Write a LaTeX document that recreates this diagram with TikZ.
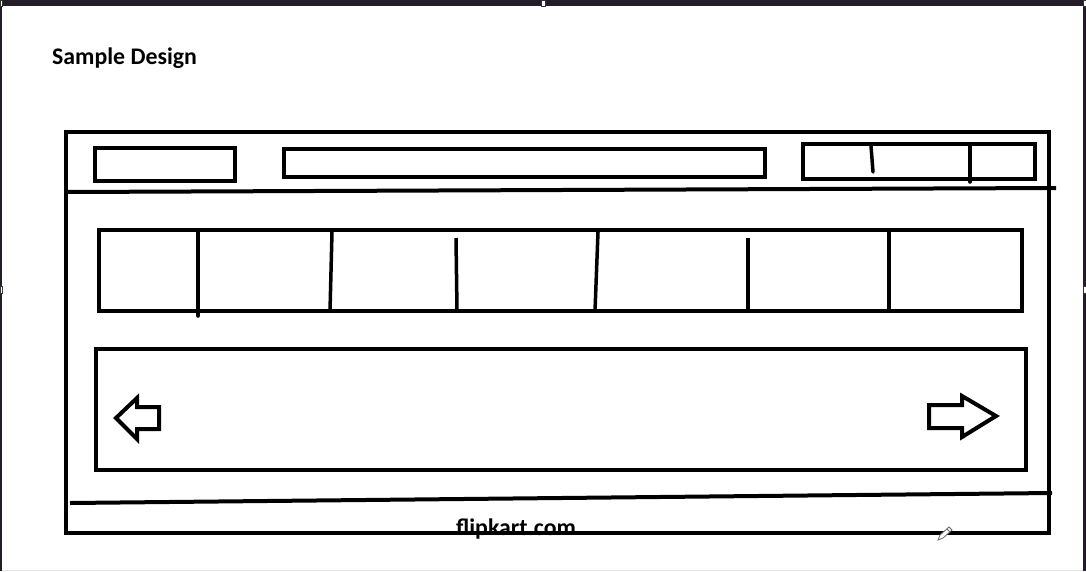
\documentclass[tikz,border=0pt]{standalone}
\usepackage{fontspec}
\setmainfont{Carlito}
\definecolor{chrome}{RGB}{36,28,40}
\begin{document}
\begin{tikzpicture}[x=1pt,y=-1pt,
  ink/.style={draw=black,line width=4pt,line join=miter},
  divider/.style={draw=black,line width=3.5pt},
  handle/.style={draw=black!80,fill=white,line width=0.6pt},
  label/.style={font=\bfseries\fontsize{23.8}{28}\selectfont,inner sep=0pt}]
\useasboundingbox (0,0) rectangle (1086,571);
% canvas and window chrome
\fill[white] (0,0) rectangle (1086,571);
\fill[chrome] (0,0) rectangle (1086,6);
\fill[chrome] (0,0) rectangle (2,571);
\fill[chrome] (1083,0) rectangle (1086,571);
\draw[black!10] (2,570) -- (1083,570);
\draw[handle] (541,0.5) rectangle (545,6);
\draw[handle] (0,0.5) rectangle (2.5,6);
\draw[handle] (1083,0.5) rectangle (1086,6);
\draw[handle] (0,286) rectangle (2.5,293);
\draw[handle] (1083,286) rectangle (1086,293);
% title
\node[label,anchor=base west] (title) at (52,64) {Sample Design};
% footer text (behind frame)
\node[label,anchor=base west] (footer) at (456,535) {flipkart.com};
% outer frame
\draw[ink] (66,132) rectangle (1049,533);
% header divider
\draw[ink] (66,192) -- (1056,188);
% header boxes
\draw[ink] (95,148) rectangle (235,181);
\draw[ink] (284,149) rectangle (765,177);
\draw[ink] (803,144) rectangle (1035,179);
\draw[divider,line cap=round] (871,146) -- (873,172);
\draw[divider,line cap=round] (970,146) -- (970,182);
% category strip
\draw[ink] (99,230) rectangle (1022,311);
\draw[divider,line cap=round] (198,232) -- (198,316);
\draw[divider] (332,232) -- (330,311);
\draw[divider] (456,238) -- (457,311);
\draw[divider] (598,232) -- (595,311);
\draw[divider] (748,238) -- (748,311);
\draw[divider] (889,232) -- (889,311);
% banner
\draw[ink] (96,349) rectangle (1026,470);
\draw[ink] (116,418) -- (137,398) -- (137,407) -- (159,407) -- (159,429) -- (137,429) -- (137,439) -- cycle;
\draw[ink] (996,416) -- (962,396) -- (962,405) -- (929,405) -- (929,428) -- (962,428) -- (962,437) -- cycle;
% footer divider
\draw[ink] (70,503) -- (1052,493);
% pencil cursor
\draw[black!60,fill=white,line width=0.8pt] (938,540) -- (940,535) -- (949,527) -- (952,530) -- (943,538) -- cycle;
\draw[black!60,line width=0.8pt] (947,529) -- (950,532);
\end{tikzpicture}
\end{document}
